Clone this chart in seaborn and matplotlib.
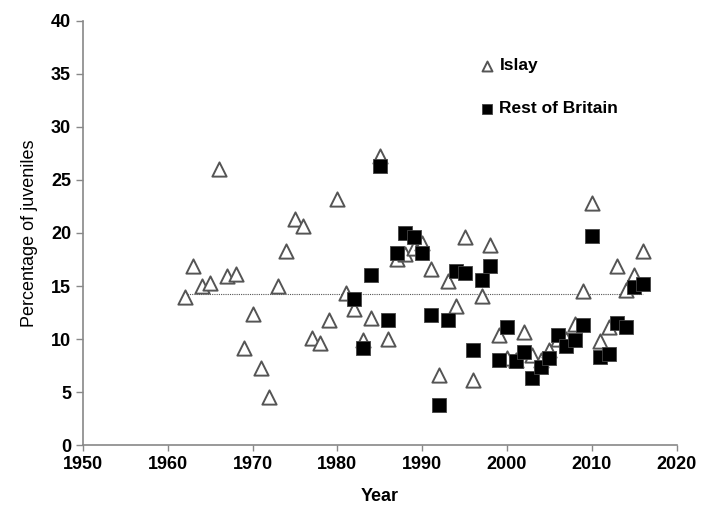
import numpy as np
import pandas as pd
import seaborn as sns
import matplotlib
matplotlib.use('Agg')
import matplotlib.pyplot as plt

# Data
islay_years = list(range(1962, 2017))
islay_pct = [14.0, 16.9, 15.0, 15.3, 26.0, 15.9, 16.1, 9.2, 12.4, 7.3,
             4.5, 15.0, 18.3, 21.3, 20.7, 10.1, 9.6, 11.8, 23.2, 14.3,
             12.8, 9.9, 12.0, 27.3, 10.0, 17.5, 18.0, 18.6, 19.1, 16.6,
             6.6, 15.5, 13.1, 19.6, 6.1, 14.1, 18.9, 10.4, 8.2, 8.0,
             10.7, 8.5, 8.0, 9.0, 10.0, 10.0, 11.4, 14.5, 22.8, 9.8,
             11.1, 16.9, 14.6, 16.0, 18.3]

rob_years = list(range(1982, 2017))
rob_pct = [13.8, 9.2, 16.0, 26.3, 11.8, 18.1, 20.0, 19.6, 18.1, 12.3,
           3.8, 11.8, 16.4, 16.2, 9.0, 15.6, 16.9, 8.0, 11.1, 7.9,
           8.8, 6.3, 7.4, 8.2, 10.4, 9.3, 9.9, 11.3, 19.7, 8.3,
           8.6, 11.5, 11.1, 14.9, 15.2]

mean_level = 14.2

islay = pd.DataFrame({'Year': islay_years, 'pct': islay_pct})
rob = pd.DataFrame({'Year': rob_years, 'pct': rob_pct})

sns.set_style('white')
plt.rcParams['font.family'] = ['Liberation Sans', 'DejaVu Sans']
plt.rcParams['text.color'] = 'black'
plt.rcParams['axes.labelcolor'] = 'black'
plt.rcParams['xtick.color'] = 'black'
plt.rcParams['ytick.color'] = 'black'

fig = plt.figure(figsize=(7.02, 5.07), dpi=100)
ax = fig.add_axes([0.118, 0.122, 0.846, 0.837])

# mean line across the Islay period
ax.plot([islay_years[0], islay_years[-1]], [mean_level, mean_level],
        color='#555555', linestyle=(0, (1, 1)), linewidth=0.8, zorder=1)

sns.scatterplot(data=islay, x='Year', y='pct', marker='^', s=105,
                facecolor='white', edgecolor='#555555', linewidth=1.4,
                label='Islay', ax=ax, zorder=2)
sns.scatterplot(data=rob, x='Year', y='pct', marker='s', s=95,
                color='black', edgecolor='#444444', linewidth=0.6,
                label='Rest of Britain', ax=ax, zorder=3)

ax.set_xlim(1950, 2020)
ax.set_ylim(0, 40)
ax.set_xticks(range(1950, 2021, 10))
ax.set_yticks(range(0, 41, 5))
ax.tick_params(axis='both', labelsize=13, length=5, width=1, color='#888888',
               labelcolor='black', direction='out', bottom=True, left=True)
ax.tick_params(axis='x', length=4)
for lab in ax.get_xticklabels() + ax.get_yticklabels():
    lab.set_fontweight('bold')

for side in ['top', 'right']:
    ax.spines[side].set_visible(False)
for side in ['left', 'bottom']:
    ax.spines[side].set_color('#888888')
    ax.spines[side].set_linewidth(1.2)

ax.set_xlabel('Year', fontsize=13, fontweight='bold', labelpad=11)
ax.set_ylabel('Percentage of juveniles', fontsize=13, labelpad=9)

leg = ax.legend(loc='upper left', bbox_to_anchor=(0.64, 0.928), frameon=False,
                handletextpad=-0.3, labelspacing=1.6, fontsize=12.5,
                markerscale=0.7, borderaxespad=0)
for t in leg.get_texts():
    t.set_fontweight('bold')

fig.savefig('out.png', dpi=100)
